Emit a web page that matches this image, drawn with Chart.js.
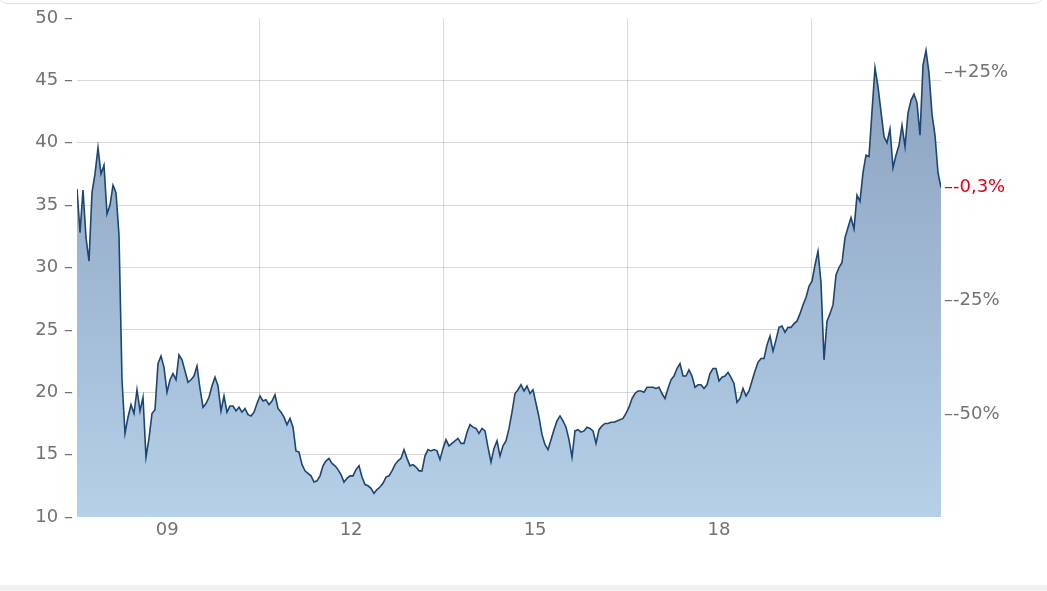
<!DOCTYPE html>
<html lang="de">
<head>
    <meta charset="UTF-8">
    <title>Kursverlauf</title>
    <script src="https://cdn.jsdelivr.net/npm/chart.js"></script>
    <style>
        html, body { margin: 0; padding: 0; background: #fff; overflow: hidden; }
        .wrap { position: relative; width: 1047px; height: 591px; }
        .top-edge {
            position: absolute; left: -2px; width: 1044px; top: -20px; height: 22px;
            border: 1px solid #e2e2e2; border-radius: 10px;
        }
        .bottom-band {
            position: absolute; left: 0; right: 0; top: 585px; height: 6px; background: #f0f0f0;
        }
        canvas { position: absolute; left: 0; top: 0; }
    </style>
</head>
<body>
<div class="wrap">
    <div class="top-edge"></div>
    <canvas id="kurs" width="1047" height="591"></canvas>
    <div class="bottom-band"></div>
</div>
<script>
    // one sample roughly every 18 days, Jan 2008 - Feb 2022
    const startYear = 2008.03;
    const stepYears = 0.04892;

    const prices = [
        36.3, 32.8, 36.2, 32.4, 30.5, 36.0, 37.5, 39.6, 37.5, 38.2,
        34.3, 35.0, 36.6, 36.0, 32.6, 21.0, 16.7, 18.0, 19.0, 18.3,
        20.2, 18.5, 19.6, 14.8, 16.3, 18.3, 18.6, 22.3, 22.9, 22.0,
        20.0, 21.0, 21.5, 21.0, 23.0, 22.6, 21.7, 20.8, 21.0, 21.3,
        22.1, 20.3, 18.8, 19.1, 19.6, 20.5, 21.2, 20.5, 18.5, 19.7,
        18.4, 18.9, 18.9, 18.5, 18.8, 18.4, 18.7, 18.2,
        18.1, 18.4, 19.1, 19.7, 19.3, 19.4, 19.0, 19.3, 19.8, 18.7,
        18.4, 18.0, 17.4, 17.9, 17.2, 15.3, 15.2, 14.2, 13.7, 13.5,
        13.3, 12.8, 12.9, 13.3, 14.1, 14.5, 14.7, 14.3, 14.1, 13.8,
        13.4, 12.8, 13.1, 13.3, 13.3, 13.8, 14.1, 13.2, 12.6, 12.5,
        12.3, 11.9, 12.2, 12.4, 12.7, 13.2, 13.3, 13.7, 14.2, 14.5,
        14.7, 15.4, 14.7, 14.1, 14.2, 14.0, 13.7, 13.7, 14.9, 15.4,
        15.3, 15.4, 15.3, 14.6, 15.5, 16.2, 15.7, 15.9, 16.1, 16.3,
        15.9, 15.9, 16.8, 17.4, 17.2, 17.1, 16.7, 17.1, 16.9, 15.6,
        14.4, 15.5, 16.1, 14.9, 15.7, 16.1, 17.1, 18.4, 19.9, 20.2,
        20.6, 20.1, 20.5, 19.9, 20.2, 19.1, 18.0, 16.6, 15.8, 15.4,
        16.2, 17.0, 17.7, 18.1, 17.7, 17.2, 16.2, 14.8, 16.9, 17.0,
        16.8, 16.9, 17.2, 17.1, 16.9, 15.9, 17.0, 17.3, 17.5, 17.5,
        17.6, 17.6, 17.7, 17.8, 17.9, 18.3, 18.8, 19.5, 19.9, 20.1,
        20.1, 20.0, 20.4, 20.4, 20.4, 20.3, 20.4, 19.9, 19.5, 20.3,
        21.0, 21.3, 21.9, 22.3, 21.3, 21.3, 21.8, 21.3, 20.4, 20.6,
        20.6, 20.3, 20.6, 21.5, 21.9, 21.9, 20.9, 21.2, 21.3, 21.6,
        21.2, 20.7, 19.2, 19.5, 20.3, 19.7, 20.1, 20.9, 21.7, 22.4,
        22.7, 22.7, 23.8, 24.5, 23.3, 24.2, 25.2, 25.3, 24.8, 25.2,
        25.2, 25.5, 25.7, 26.3, 27.0, 27.6, 28.5, 28.9, 30.2, 31.3,
        28.8, 22.6, 25.7, 26.3, 27.0, 29.4, 30.0, 30.4, 32.4, 33.2,
        34.0, 33.1, 35.8, 35.3, 37.6, 39.0, 38.9, 42.5, 46.0, 44.5,
        42.5, 40.5, 40.0, 41.1, 38.0, 39.0, 39.8, 41.4, 39.7, 42.4,
        43.4, 43.9, 43.2, 40.6, 46.2, 47.4, 45.6, 42.3, 40.6, 37.6,
        36.4
    ];

    const yearTicks = [2009.5, 2012.5, 2015.5, 2018.5];
    const yearLabels = ['09', '12', '15', '18'];
    const gridYears = [2011, 2014, 2017, 2020];

    const priceTicks = [10, 15, 20, 25, 30, 35, 40, 45, 50];

    const pctTicks = [-0.5, -0.25, -0.003, 0.25];
    const pctLabels = ['-50%', '-25%', '-0,3%', '+25%'];

    const GREY = '#727272';
    const RED = '#e2001a';
    const GRID = 'rgba(0,0,0,0.15)';

    // reference price for the percentage axis
    const lastPrice = prices[prices.length - 1];
    const refPrice = lastPrice / (1 + pctTicks[2]);

    const points = prices.map((p, i) => ({ x: startYear + i * stepYears, y: p }));

    Chart.defaults.font.family = 'DejaVu Sans';
    Chart.defaults.font.size = 18;
    Chart.defaults.color = GREY;

    new Chart(document.getElementById('kurs'), {
        type: 'line',
        data: {
            datasets: [{
                data: points,
                borderColor: '#1d4571',
                borderWidth: 1.6,
                pointRadius: 0,
                tension: 0,
                fill: 'start',
                backgroundColor: (ctx) => {
                    const area = ctx.chart.chartArea;
                    if (!area) return '#a5bdd7';
                    const g = ctx.chart.ctx.createLinearGradient(0, area.top, 0, area.bottom);
                    g.addColorStop(0, '#879ebb');
                    g.addColorStop(1, '#b6d0e8');
                    return g;
                }
            }]
        },
        options: {
            responsive: false,
            animation: false,
            layout: { padding: { top: 18, left: 0, right: 0, bottom: 0 } },
            plugins: {
                legend: { display: false },
                tooltip: { enabled: false }
            },
            scales: {
                x: {
                    type: 'linear',
                    z: 1,
                    min: startYear,
                    max: startYear + stepYears * (prices.length - 1),
                    afterBuildTicks: (s) => {
                        s.ticks = yearTicks.concat(gridYears).sort((a, b) => a - b).map(v => ({ value: v }));
                    },
                    afterFit: (s) => { s.height = 74; },
                    border: { display: false },
                    grid: {
                        drawTicks: false,
                        color: (ctx) => (ctx.tick && gridYears.includes(ctx.tick.value)) ? GRID : 'transparent'
                    },
                    ticks: {
                        autoSkip: false,
                        maxRotation: 0,
                        padding: 3,
                        callback: (v) => {
                            const k = yearTicks.indexOf(v);
                            return k >= 0 ? yearLabels[k] : '';
                        }
                    }
                },
                y: {
                    position: 'left',
                    z: 1,
                    min: 10,
                    max: 50,
                    afterBuildTicks: (s) => { s.ticks = priceTicks.map(v => ({ value: v })); },
                    afterFit: (s) => { s.width = 77; },
                    border: { display: false },
                    grid: {
                        drawTicks: false,
                        color: (ctx) => (ctx.tick && (ctx.tick.value === 10 || ctx.tick.value === 50)) ? 'transparent' : GRID
                    },
                    ticks: {
                        padding: 4,
                        callback: (v) => v + ' \u2013'
                    }
                },
                y1: {
                    position: 'right',
                    min: 10,
                    max: 50,
                    afterBuildTicks: (s) => { s.ticks = pctTicks.map(p => ({ value: refPrice * (1 + p) })); },
                    afterFit: (s) => { s.width = 106; },
                    border: { display: false },
                    grid: { display: false, drawTicks: false },
                    ticks: {
                        padding: 3,
                        autoSkip: false,
                        color: (ctx) => ctx.index === 2 ? RED : GREY,
                        callback: (v, i) => '\u2013' + pctLabels[i]
                    }
                }
            }
        }
    });
</script>
</body>
</html>
